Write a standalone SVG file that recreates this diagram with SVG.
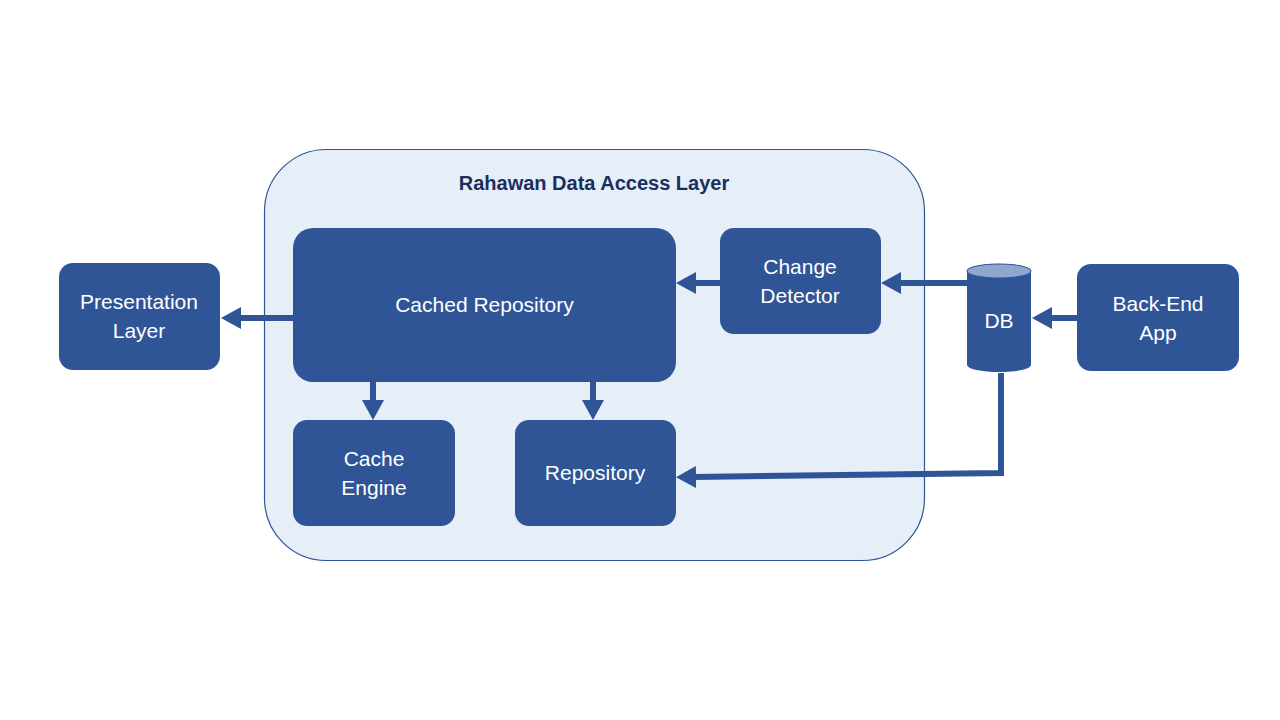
<svg xmlns="http://www.w3.org/2000/svg" width="1280" height="720" viewBox="0 0 1280 720">
<style>
.node{fill:#2F5597;}
.lbl{fill:#FFFFFF;font-family:"Liberation Sans",Arial,sans-serif;font-size:21px;text-anchor:middle;}
.title{fill:#1A2F5E;font-family:"Liberation Sans",Arial,sans-serif;font-size:20px;font-weight:bold;text-anchor:middle;}
.conn{stroke:#2F5597;stroke-width:6;fill:none;marker-end:url(#ah);}
</style>
<defs>
<marker id="ah" markerUnits="userSpaceOnUse" markerWidth="20" markerHeight="22" refX="2" refY="11" orient="auto">
<path d="M0,0 L20,11 L0,22 z" fill="#2F5597"/>
</marker>
</defs>
<rect width="1280" height="720" fill="#FFFFFF"/>
<g id="container">
<rect x="264.5" y="149.5" width="660" height="411" rx="62" fill="#E6EEF8" stroke="#2F5597" stroke-width="1.2"/>
<text class="title" x="594" y="190">Rahawan Data Access Layer</text>
</g>
<g id="presentation">
<rect class="node" x="59" y="263" width="161" height="107" rx="14"/>
<text class="lbl" x="139" y="309">Presentation</text>
<text class="lbl" x="139" y="338">Layer</text>
</g>
<g id="cached-repository">
<rect class="node" x="293" y="228" width="383" height="154" rx="20"/>
<text class="lbl" x="484.5" y="312">Cached Repository</text>
</g>
<g id="change-detector">
<rect class="node" x="720" y="228" width="161" height="106" rx="14"/>
<text class="lbl" x="800" y="274">Change</text>
<text class="lbl" x="800" y="303">Detector</text>
</g>
<g id="cache-engine">
<rect class="node" x="293" y="420" width="162" height="106" rx="14"/>
<text class="lbl" x="374" y="466">Cache</text>
<text class="lbl" x="374" y="495">Engine</text>
</g>
<g id="repository">
<rect class="node" x="515" y="420" width="161" height="106" rx="14"/>
<text class="lbl" x="595" y="480">Repository</text>
</g>
<g id="db">
<path class="node" d="M967,271 L967,365 A32,7 0 0 0 1031,365 L1031,271 A32,7 0 0 0 967,271 z"/>
<ellipse cx="999" cy="271" rx="32" ry="7" fill="#8FA6CF" stroke="#2F5597" stroke-width="1"/>
<text class="lbl" x="999" y="328">DB</text>
</g>
<g id="back-end">
<rect class="node" x="1077" y="264" width="162" height="107" rx="14"/>
<text class="lbl" x="1158" y="311">Back-End</text>
<text class="lbl" x="1158" y="340">App</text>
</g>
<g id="connectors">
<line class="conn" x1="293" y1="318" x2="239" y2="318"/>
<line class="conn" x1="720" y1="283" x2="694" y2="283"/>
<line class="conn" x1="967" y1="283" x2="899" y2="283"/>
<line class="conn" x1="1077" y1="318" x2="1050" y2="318"/>
<line class="conn" x1="373" y1="382" x2="373" y2="402"/>
<line class="conn" x1="593" y1="382" x2="593" y2="402"/>
<polyline class="conn" points="1001,373 1001,473 694,477"/>
</g>
</svg>
